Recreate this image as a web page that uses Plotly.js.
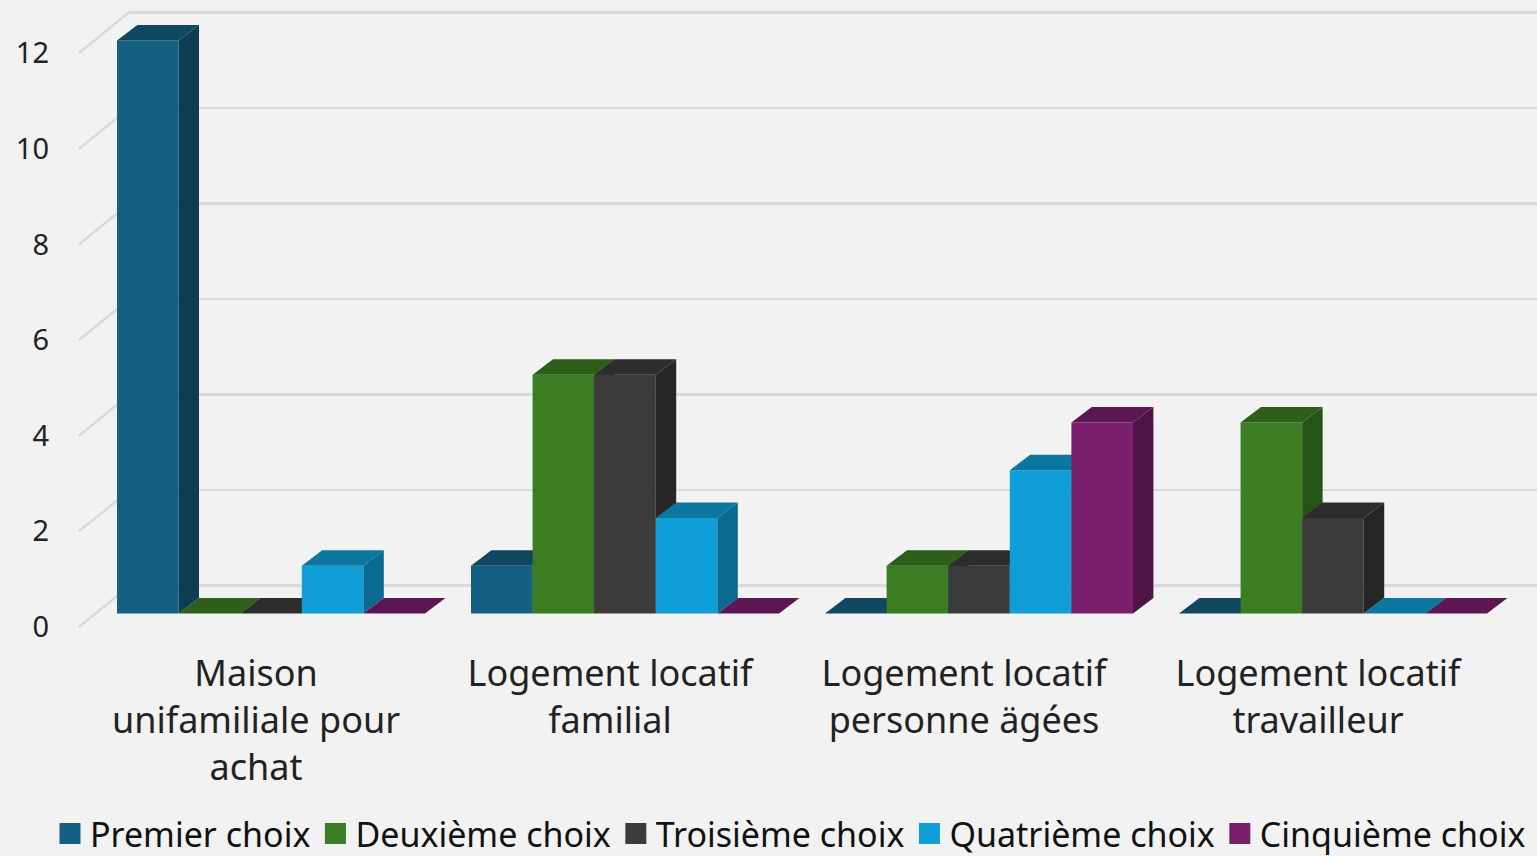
<!DOCTYPE html>
<html><head><meta charset="utf-8">
<script src="https://cdn.plot.ly/plotly-3.0.1.min.js"></script>
<style>html,body{margin:0;padding:0;background:#f2f2f2;overflow:hidden}</style>
</head><body><div id="chart" style="width:1537px;height:856px"></div>
<script>
const categories = ["Maison<br>unifamiliale pour<br>achat","Logement locatif<br>familial","Logement locatif<br>personne ägées","Logement locatif<br>travailleur"];
const premier = [12,1,0,0];
const deuxieme = [0,5,1,4];
const troisieme = [0,5,1,2];
const quatrieme = [1,2,3,0];
const cinquieme = [0,0,4,0];
const seriesNames = ["Premier choix","Deuxième choix","Troisième choix","Quatrième choix","Cinquième choix"];
const seriesValues = [premier,deuxieme,troisieme,quatrieme,cinquieme];
const frontColors = ["#156082","#3B7D23","#3B3B3B","#0F9ED5","#7A1F6C"];
const topColors = ["#104862","#2D5E1A","#2D2D2D","#0B76A0","#5C1752"];
const sideColors = ["#0C3D52","#275317","#262626","#0A6A90","#4F1445"];
const yTicks = [0,2,4,6,8,10,12];

const W=1537,H=856, catPx=354, cat0=256, unit=47.75, floorFront=613.5;
const barPx=61.6, firstBar=117, dxPx=20.4, dyPx=15.5;
const FONT="'Noto Sans', 'Open Sans', sans-serif", TXT="#222222";
const dx=dxPx/catPx, dy=dyPx/unit, bw=barPx/catPx;
const xRange=[(0-cat0)/catPx,(W-cat0)/catPx];
const barY=[(floorFront-H)/unit,floorFront/unit];

const traces=[];
// legend entries (on the back-wall subplot)
seriesNames.forEach((n,k)=>traces.push({type:'scatter',mode:'markers',x:[null],y:[null],name:n,xaxis:'x',yaxis:'y',
  marker:{symbol:'square',size:16,color:frontColors[k],line:{width:5,color:frontColors[k]}},hoverinfo:'skip'}));
// carries the category axis
traces.push({type:'scatter',mode:'markers',x:[null],y:[null],xaxis:'x2',yaxis:'y2',showlegend:false,hoverinfo:'skip'});
// slanted ticks from the front axis to the back wall
const tx=[],ty=[];
yTicks.forEach(v=>{tx.push(-0.5,(130-cat0)/catPx,null);ty.push(v,v+41.5/47.83,null);});
traces.push({type:'scatter',mode:'lines',x:tx,y:ty,xaxis:'x3',yaxis:'y3',showlegend:false,hoverinfo:'skip',line:{color:'#D9D9D9',width:2.5}});
// bars: each series in its own overlaid subplot, painted left to right
seriesValues.forEach((vals,k)=>{
  const ax=k+4, xa='x'+ax, ya='y'+ax;
  const lefts=vals.map((v,i)=>i+(firstBar+k*barPx-cat0)/catPx);
  traces.push({type:'bar',x:lefts.map(l=>l+bw/2),y:vals,width:vals.map(()=>bw),xaxis:xa,yaxis:ya,showlegend:false,name:seriesNames[k],
    marker:{color:frontColors[k],line:{width:0}},hoverinfo:'skip'});
  const sx=[],sy=[],ttx=[],tty=[];
  vals.forEach((v,i)=>{
    const l=lefts[i],r=l+bw;
    if(v>0){sx.push(r,r+dx,r+dx,r,r,null);sy.push(0,dy,v+dy,v,0,null);}
    ttx.push(l,r,r+dx,l+dx,l,null);tty.push(v,v,v+dy,v+dy,v,null);
  });
  traces.push({type:'scatter',mode:'lines',x:sx,y:sy,fill:'toself',fillcolor:sideColors[k],line:{width:0},xaxis:xa,yaxis:ya,showlegend:false,hoverinfo:'skip'});
  traces.push({type:'scatter',mode:'lines',x:ttx,y:tty,fill:'toself',fillcolor:topColors[k],line:{width:0},xaxis:xa,yaxis:ya,showlegend:false,hoverinfo:'skip'});
});

const hidden={visible:false,fixedrange:true};
const layout={
  width:W,height:H,margin:{l:0,r:0,t:0,b:0,pad:0,autoexpand:false},
  paper_bgcolor:'#F2F2F2',plot_bgcolor:'rgba(0,0,0,0)',barmode:'overlay',showlegend:true,hovermode:false,
  font:{family:FONT,color:TXT},
  legend:{orientation:'h',x:50/W,xanchor:'left',y:(H-834)/H,yanchor:'middle',font:{family:FONT,size:34,color:'#111111'},bgcolor:'rgba(0,0,0,0)',borderwidth:0,itemclick:false,itemdoubleclick:false},
  // back wall with gridlines
  xaxis:{domain:[130/W,1],range:[0,1],showgrid:false,zeroline:false,showticklabels:false,ticks:'',showline:false,fixedrange:true},
  yaxis:{domain:[0,1],range:[(585.5-H)/unit,585.5/unit],tickmode:'array',tickvals:yTicks,showgrid:true,gridcolor:'#D9D9D9',gridwidth:2.5,zeroline:false,showticklabels:false,ticks:'',showline:false,fixedrange:true},
  // category axis
  xaxis2:{domain:[0,1],range:xRange,tickmode:'array',tickvals:categories.map((c,i)=>i),ticktext:categories,anchor:'free',position:(H-649)/H,side:'bottom',
    showgrid:false,zeroline:false,showline:false,ticks:'',tickangle:0,tickfont:{family:FONT,size:36,color:TXT},fixedrange:true},
  yaxis2:{domain:[0,1],range:barY,visible:false,fixedrange:true},
  // value axis on the front edge of the floor
  xaxis3:Object.assign({overlaying:'x2',range:xRange},hidden),
  yaxis3:{overlaying:'y2',range:[(627-H)/47.83,627/47.83],tickmode:'array',tickvals:yTicks,anchor:'free',position:49/W,side:'left',showgrid:false,zeroline:false,showline:false,ticks:'',
    tickfont:{family:FONT,size:29,color:TXT},fixedrange:true}
};
for(let a=4;a<=8;a++){
  layout['xaxis'+a]=Object.assign({overlaying:'x2',range:xRange},hidden);
  layout['yaxis'+a]=Object.assign({overlaying:'y2',range:barY},hidden);
}
Plotly.newPlot('chart',traces,layout,{displayModeBar:false,staticPlot:true});
</script></body></html>
